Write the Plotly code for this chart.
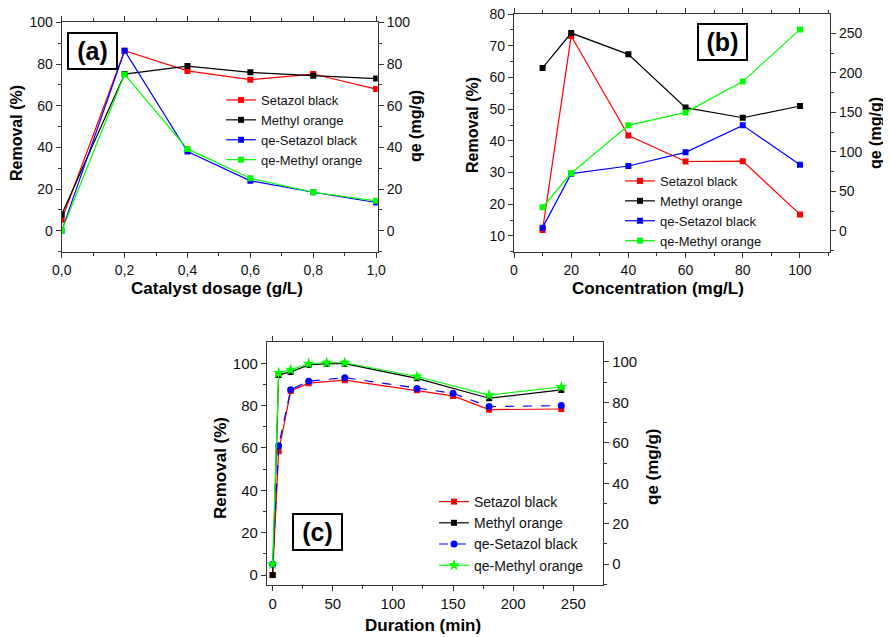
import plotly.graph_objects as go

# ---------------- data ----------------
# (a) catalyst dosage
a_x = [0.0, 0.2, 0.4, 0.6, 0.8, 1.0]
a_setazol = [5.3, 86.4, 76.7, 72.5, 75.2, 68.0]
a_methyl = [7.8, 75.2, 79.0, 76.0, 74.4, 73.0]
a_qe_setazol = [0.0, 86.4, 38.0, 24.0, 18.5, 13.6]
a_qe_methyl = [0.0, 75.0, 39.3, 25.2, 18.5, 14.4]
a_xticks = [0.0, 0.2, 0.4, 0.6, 0.8, 1.0]
a_xtick_labels = ["0,0", "0,2", "0,4", "0,6", "0,8", "1,0"]

# (b) concentration
b_x = [10, 20, 40, 60, 80, 100]
b_setazol = [11.9, 73.1, 41.7, 33.5, 33.6, 16.8]
b_methyl = [63.0, 74.0, 67.3, 50.5, 47.3, 51.0]
b_qe_setazol = [4.2, 72.5, 82.2, 99.5, 133.6, 83.9]
b_qe_methyl = [30.0, 73.0, 133.6, 150.0, 189.0, 255.0]

# (c) duration
c_x_setazol = [0, 5, 15, 30, 60, 120, 150, 180, 240]
c_setazol = [0.0, 58.4, 86.9, 90.6, 92.0, 87.2, 84.6, 78.1, 78.4]
c_qe_setazol = [0.0, 58.5, 86.3, 90.5, 92.2, 86.9, 84.5, 77.9, 78.4]
c_x_methyl = [0, 5, 15, 30, 45, 60, 120, 180, 240]
c_methyl = [0.0, 94.5, 95.9, 99.2, 99.8, 99.8, 92.9, 83.5, 87.4]
c_qe_methyl = [0.0, 94.6, 96.1, 99.1, 99.6, 99.6, 92.8, 83.6, 87.6]

names = ["Setazol black", "Methyl orange", "qe-Setazol black", "qe-Methyl orange"]
RED, BLACK, BLUE, GREEN = "#ff0000", "#000000", "#0000ff", "#00ff00"

# the page body adds an 8px margin, so the figure is drawn 8px smaller and offset
OFF = 8
W, H = 891 - OFF, 637 - OFF
FONT = "Liberation Sans, Arial, sans-serif"


def px(x):
    return (x - OFF) / W


def py(y):
    return 1 - (y - OFF) / H


fig = go.Figure()


def add(x, y, xa, ya, name, color, leg, symbol="square", size=6, dash="solid"):
    fig.add_trace(go.Scatter(
        x=x, y=y, xaxis=xa, yaxis=ya, name=name, legend=leg,
        mode="lines+markers",
        line=dict(color=color, width=1.2, dash=dash),
        marker=dict(symbol=symbol, size=size, color=color),
    ))


# panel a
add(a_x, a_setazol, "x", "y", names[0], RED, "legend")
add(a_x, a_methyl, "x", "y", names[1], BLACK, "legend")
add(a_x, a_qe_setazol, "x", "y2", names[2], BLUE, "legend")
add(a_x, a_qe_methyl, "x", "y2", names[3], GREEN, "legend")
# panel b
add(b_x, b_setazol, "x2", "y3", names[0], RED, "legend2")
add(b_x, b_methyl, "x2", "y3", names[1], BLACK, "legend2")
add(b_x, b_qe_setazol, "x2", "y4", names[2], BLUE, "legend2")
add(b_x, b_qe_methyl, "x2", "y4", names[3], GREEN, "legend2")
# panel c
add(c_x_setazol, c_setazol, "x3", "y5", names[0], RED, "legend3", size=6)
add(c_x_methyl, c_methyl, "x3", "y5", names[1], BLACK, "legend3", size=6)
add(c_x_setazol, c_qe_setazol, "x3", "y6", names[2], BLUE, "legend3",
    symbol="circle", size=7, dash="dash")
add(c_x_methyl, c_qe_methyl, "x3", "y6", names[3], GREEN, "legend3",
    symbol="star", size=9)

AX = "#333333"


def axis(domain, rng, dtick=None, minor_dtick=None, side=None, overlaying=None,
         anchor=None, mirror=False, tickvals=None, ticktext=None, fs=14):
    d = dict(domain=domain, range=rng, showline=True, linecolor=AX, linewidth=1.3,
             automargin=False, ticklabeloverflow="allow",
             ticks="outside", ticklen=5, tickwidth=1.2, tickcolor=AX,
             showgrid=False, zeroline=False,
             tickfont=dict(family=FONT, size=fs, color="#111111"),
             minor=dict(ticks="outside", ticklen=3, tickwidth=1, tickcolor=AX,
                        tickmode="linear", dtick=minor_dtick, tick0=0, showgrid=False))
    if tickvals is not None:
        d.update(tickmode="array", tickvals=tickvals, ticktext=ticktext)
    else:
        d.update(tickmode="linear", dtick=dtick, tick0=0)
    if side:
        d["side"] = side
    if overlaying:
        d["overlaying"] = overlaying
    if anchor:
        d["anchor"] = anchor
    if mirror:
        d["mirror"] = "ticks"
    return d


dom_a_x = [px(61.7), px(377.7)]
dom_a_y = [py(251.7), py(22.3)]
dom_b_x = [px(514), px(830)]
dom_b_y = [py(252.3), py(14)]
dom_c_x = [px(267), px(603)]
dom_c_y = [py(585), py(342.3)]

layout_axes = dict(
    xaxis=axis(dom_a_x, [0, 1.005], minor_dtick=0.1, anchor="y", mirror=True,
               tickvals=a_xticks, ticktext=a_xtick_labels),
    yaxis=axis(dom_a_y, [-10, 100.01], dtick=20, minor_dtick=10, anchor="x"),
    yaxis2=axis(dom_a_y, [-10, 100.01], dtick=20, minor_dtick=10, side="right",
                overlaying="y", anchor="x"),
    xaxis2=axis(dom_b_x, [0, 110.5], dtick=20, minor_dtick=10, anchor="y3", mirror=True),
    yaxis3=axis(dom_b_y, [4.85, 80.02], dtick=10, minor_dtick=5, anchor="x2"),
    yaxis4=axis(dom_b_y, [-27, 274.5], dtick=50, minor_dtick=25, side="right",
                overlaying="y3", anchor="x2"),
    xaxis3=axis(dom_c_x, [-4.7, 274.7], dtick=50, minor_dtick=25, anchor="y5",
                mirror=True, fs=15),
    yaxis5=axis(dom_c_y, [-4.7, 109.9], dtick=20, minor_dtick=10, anchor="x3", fs=15),
    yaxis6=axis(dom_c_y, [-10.3, 109.7], dtick=20, minor_dtick=10, side="right",
                overlaying="y5", anchor="x3", fs=15),
)

anns = []


def title(text, x, y, angle=0, size=17):
    anns.append(dict(text="<b>%s</b>" % text, x=px(x), y=py(y), xref="paper", yref="paper",
                     showarrow=False, textangle=angle, xanchor="center", yanchor="middle",
                     font=dict(family=FONT, size=size, color="#000000")))


title("Removal (%)", 17, 133, -90, 16)
title("qe (mg/g)", 416, 126, -90, 16)
title("Catalyst dosage (g/L)", 217, 289)
title("Removal (%)", 472, 125, -90, 16)
title("qe (mg/g)", 876, 133, -90, 16)
title("Concentration (mg/L)", 658, 289)
title("Removal (%)", 220, 468, -90, 17)
title("qe (mg/g)", 652, 467, -90, 17)
title("Duration (min)", 423, 625)


def label(text, x, y):
    anns.append(dict(text="<b>%s</b>" % text, x=px(x), y=py(y), xref="paper", yref="paper",
                     showarrow=False, xanchor="center", yanchor="middle",
                     width=47, height=34, bgcolor="white", bordercolor="#000000",
                     borderwidth=2, borderpad=0,
                     font=dict(family=FONT, size=25, color="#000000")))


label("(a)", 92, 51.5)
label("(b)", 722, 42)
label("(c)", 317, 532)


def legend(x, ytop, size):
    return dict(x=px(x), y=py(ytop), xanchor="left", yanchor="top",
                bgcolor="rgba(0,0,0,0)", borderwidth=0,
                font=dict(family=FONT, size=size, color="#111111"),
                itemwidth=30, tracegroupgap=0)


fig.update_layout(
    width=W, height=H, margin=dict(l=0, r=0, t=0, b=0, autoexpand=False),
    paper_bgcolor="white", plot_bgcolor="white",
    showlegend=True,
    legend=legend(221, 85, 13),
    legend2=legend(620, 166, 13),
    legend3=legend(434, 486, 14),
    annotations=anns,
    **layout_axes,
)

fig.write_html("out.html")
